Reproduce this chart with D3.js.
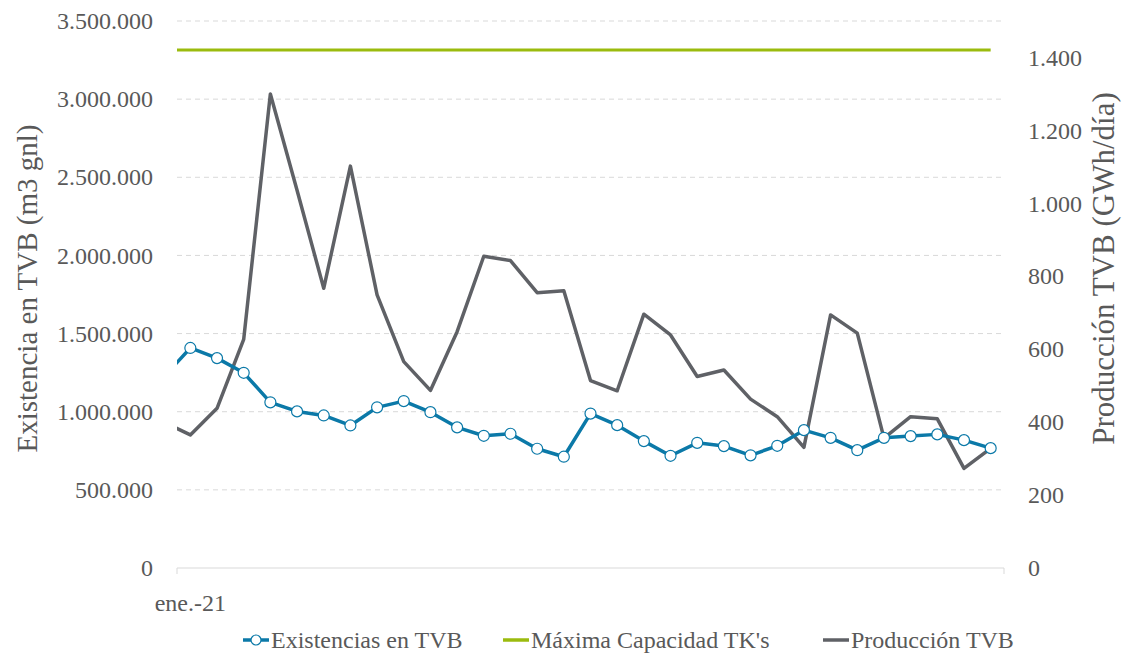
<!DOCTYPE html>
<html>
<head>
<meta charset="utf-8">
<script src="https://cdn.jsdelivr.net/npm/d3@7"></script>
<style>
  body { margin: 0; background: #fff; }
  svg text { font-family: "Liberation Serif", "Tinos", "Times New Roman", "DejaVu Serif", serif !important; fill: #595959; }
</style>
</head>
<body>
<div id="chart"></div>
<script>
// months (first one sits left of the axis and is clipped, like in the excel sheet)
var months = ["dic.-20", "ene.-21", "feb.-21", "mar.-21", "abr.-21", "may.-21", "jun.-21", "jul.-21", "ago.-21",
    "sep.-21", "oct.-21", "nov.-21", "dic.-21", "ene.-22", "feb.-22", "mar.-22", "abr.-22", "may.-22", "jun.-22",
    "jul.-22", "ago.-22", "sep.-22", "oct.-22", "nov.-22", "dic.-22", "ene.-23", "feb.-23", "mar.-23", "abr.-23",
    "may.-23", "jun.-23", "jul.-23"];

// m3 gnl
var existencias = [1222000, 1408000, 1343000, 1249000, 1060000, 1002000, 976000, 912000, 1028000, 1068000,
    997000, 900000, 846000, 859000, 763000, 712000, 988000, 914000, 812000, 718000, 801000, 780000, 721000,
    782000, 882000, 833000, 754000, 833000, 844000, 855000, 818000, 767000];

var capacidadMax = 3315000;

// GWh/dia
var produccion = [400, 365, 438, 627, 1300, 1036, 767, 1102, 749, 566, 487, 648, 855, 843, 755, 760, 514, 486,
    696, 639, 525, 543, 463, 415, 331, 694, 644, 356, 415, 409, 273, 328];

var leftTicks = [0, 500000, 1000000, 1500000, 2000000, 2500000, 3000000, 3500000];
var rightTicks = [0, 200, 400, 600, 800, 1000, 1200, 1400];
var xLabels = ["ene.-21"];

var margin = {top: 21, right: 118, bottom: 86, left: 177},
    width = 1122 - margin.left - margin.right,
    height = 654 - margin.top - margin.bottom;

var fmt = d3.formatLocale({decimal: ",", thousands: ".", grouping: [3], currency: ["", "€"]}).format(",d");

var svg = d3.select("#chart").append("svg")
    .attr("width", 1122)
    .attr("height", 654);

var g = svg.append("g")
    .attr("transform", "translate(" + margin.left + "," + margin.top + ")");

// category axis, 31 visible slots, points in the middle of each slot
var x = d3.scaleLinear()
    .domain([0.5, months.length - 0.5])
    .range([0, width]);

var yLeft = d3.scaleLinear().domain([0, 3500000]).range([height, 0]);
var yRight = d3.scaleLinear().domain([0, 1500]).range([height, 0]);

g.append("clipPath").attr("id", "clip")
    .append("rect").attr("x", 0).attr("y", -10).attr("width", width + 20).attr("height", height + 20);

// gridlines
g.append("g")
    .selectAll("line")
    .data(leftTicks.slice(1))
    .enter().append("line")
    .attr("x1", 0).attr("x2", width)
    .attr("y1", function(d) { return yLeft(d); })
    .attr("y2", function(d) { return yLeft(d); })
    .attr("stroke", "#d9d9d9")
    .attr("stroke-width", 1)
    .attr("stroke-dasharray", "5,4");

// left axis
var axL = g.append("g")
    .call(d3.axisLeft(yLeft).tickValues(leftTicks).tickFormat(fmt).tickSize(0).tickPadding(24));
axL.attr("font-family", null);
axL.select(".domain").remove();
axL.selectAll("text").style("font-size", "24px");

// right axis
var axR = g.append("g")
    .attr("transform", "translate(" + width + ",0)")
    .call(d3.axisRight(yRight).tickValues(rightTicks).tickFormat(fmt).tickSize(0).tickPadding(24));
axR.attr("font-family", null);
axR.select(".domain").remove();
axR.selectAll("text").style("font-size", "24px");

// bottom axis line
g.append("path")
    .attr("d", "M0," + (height + 6) + "V" + height + "H" + width + "V" + (height + 6))
    .attr("fill", "none")
    .attr("stroke", "#d9d9d9")
    .attr("stroke-width", 1);

g.append("g")
    .selectAll("text")
    .data(xLabels)
    .enter().append("text")
    .attr("x", function(d) { return x(months.indexOf(d)); })
    .attr("y", height + 43)
    .attr("text-anchor", "middle")
    .style("font-size", "24px")
    .text(function(d) { return d; });

// axis titles
g.append("text")
    .attr("transform", "translate(" + (-150) + "," + (height / 2 - 6) + ") rotate(-90)")
    .attr("text-anchor", "middle")
    .attr("dy", "0.35em")
    .style("font-size", "29px")
    .text("Existencia en TVB (m3 gnl)");

g.append("text")
    .attr("transform", "translate(" + (width + 99) + "," + (height / 2 - 26) + ") rotate(-90)")
    .attr("text-anchor", "middle")
    .attr("dy", "0.35em")
    .style("font-size", "31px")
    .text("Producción TVB (GWh/día)");

var lines = g.append("g").attr("clip-path", "url(#clip)");

// capacidad max
lines.append("path")
    .datum(months)
    .attr("fill", "none")
    .attr("stroke", "#9bbb0e")
    .attr("stroke-width", 3)
    .attr("d", d3.line()
        .x(function(d, i) { return x(i); })
        .y(function() { return yLeft(capacidadMax); }));

// produccion
lines.append("path")
    .datum(produccion)
    .attr("fill", "none")
    .attr("stroke", "#5f6166")
    .attr("stroke-width", 3.5)
    .attr("stroke-linejoin", "round")
    .attr("d", d3.line()
        .x(function(d, i) { return x(i); })
        .y(function(d) { return yRight(d); }));

// existencias
lines.append("path")
    .datum(existencias)
    .attr("fill", "none")
    .attr("stroke", "#0b79a8")
    .attr("stroke-width", 3.5)
    .attr("stroke-linejoin", "round")
    .attr("d", d3.line()
        .x(function(d, i) { return x(i); })
        .y(function(d) { return yLeft(d); }));

lines.selectAll("circle")
    .data(existencias)
    .enter().append("circle")
    .filter(function(d, i) { return i > 0; })
    .attr("cx", function(d, i) { return x(i + 1); })
    .attr("cy", function(d) { return yLeft(d); })
    .attr("r", 5.5)
    .attr("fill", "#fff")
    .attr("stroke", "#0b79a8")
    .attr("stroke-width", 1.2);

// legend
var legendItems = [
    {name: "Existencias en TVB", color: "#0b79a8", marker: true, x: 243},
    {name: "Máxima Capacidad TK's", color: "#9bbb0e", marker: false, x: 503},
    {name: "Producción TVB", color: "#5f6166", marker: false, x: 823}
];

var legend = svg.append("g").attr("transform", "translate(0,640)");

var li = legend.selectAll("g")
    .data(legendItems)
    .enter().append("g")
    .attr("transform", function(d) { return "translate(" + d.x + ",0)"; });

li.append("line")
    .attr("x1", 0).attr("x2", 26)
    .attr("stroke", function(d) { return d.color; })
    .attr("stroke-width", 3.5);

li.filter(function(d) { return d.marker; })
    .append("circle")
    .attr("cx", 13).attr("r", 5)
    .attr("fill", "#fff")
    .attr("stroke", function(d) { return d.color; })
    .attr("stroke-width", 1.2);

li.append("text")
    .attr("x", 28)
    .attr("dy", "0.35em")
    .style("font-size", "24px")
    .text(function(d) { return d.name; });
</script>
</body>
</html>
